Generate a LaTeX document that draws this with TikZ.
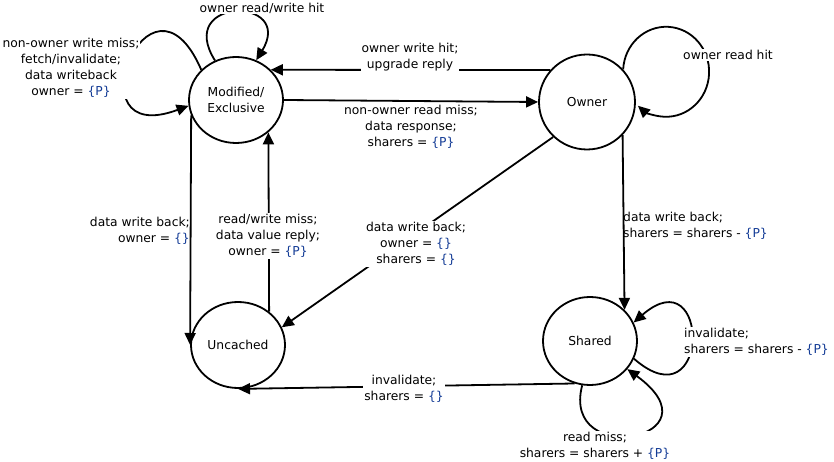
\documentclass[tikz,border=0pt]{standalone}
\usepackage{fontspec}
\setmainfont{DejaVu Sans}
\usetikzlibrary{arrows.meta,shapes.geometric}
\definecolor{setblue}{RGB}{20,60,150}
\newcommand{\setof}[1]{\textcolor{setblue}{\{#1\}}}

\begin{document}
\begin{tikzpicture}[x=1bp,y=-1bp,
  every node/.style={font=\fontsize{12.3bp}{16bp}\selectfont},
  state/.style={ellipse, draw, line width=1.8bp, inner sep=0pt, align=center},
  trans/.style={line width=1.8bp, -{Triangle[length=12bp,width=11bp]}},
  lbl/.style={fill=white, inner sep=1bp, align=center},
]
\useasboundingbox (0,0) rectangle (834,462);

% states
\node[state, minimum width=94bp, minimum height=86bp] (me)  at (236,100) {Modified/\\Exclusive};
\node[state, minimum width=96bp, minimum height=95bp] (own) at (587,102) {Owner};
\node[state, minimum width=94bp, minimum height=86bp] (unc) at (238,345) {Uncached};
\node[state, minimum width=94bp, minimum height=88bp] (sh)  at (590,341) {Shared};

% transitions
\draw[trans] (me.118) .. controls +(-40.5,-64) and +(39,-64) .. (me.63);
\draw[trans] (me.139) .. controls +(-52,-120) and +(-119.4,44.3) .. (me.187);
\draw[trans] (own.139) -- (me.41);
\draw[trans] (me.east) -- (own.west);
\draw[trans] (own.42) arc[start angle=183, end angle=491, x radius=43, y radius=45];
\draw[trans] (own.-43) -- (sh.42);
\draw[trans] (own.226) -- (unc.22);
\draw[trans] (me.199) -- (unc.west);
\draw[trans] (unc.47) -- (me.-45);
\draw[trans] (sh.250) -- (unc.south);
\draw[trans] (sh.-22) .. controls +(77,67) and +(77,-67) .. (sh.23);
\draw[trans] (sh.260) .. controls +(-22,84) and +(96,70) .. (sh.323);

% transition labels
\node[lbl] (tme) at (262,8) {owner read/write hit};
\node[lbl] (tmeleft) at (71,68) {non-owner write miss;\\fetch/invalidate;\\data writeback\\owner = \setof{P}};
\node[lbl] (tup) at (410,57) {owner write hit;\\upgrade reply};
\node[lbl] (tread) at (411,127) {non-owner read miss;\\data response;\\sharers = \setof{P}};
\node[lbl] (town) at (728,55) {owner read hit};
\node[anchor=west, inner sep=0pt, align=left] (towsh) at (623,226) {data write back;\\sharers = sharers - \setof{P}};
\node[lbl] (towunc) at (416,244) {data write back;\\owner = \setof{}\\sharers = \setof{}};
\node[anchor=east, inner sep=0pt, align=right] (tmeunc) at (190,231) {data write back;\\owner = \setof{}};
\node[lbl] (tuncme) at (268,236) {read/write miss;\\data value reply;\\owner = \setof{P}};
\node[lbl] (tshunc) at (404,389) {invalidate;\\sharers = \setof{}};
\node[lbl, anchor=west, align=left] (tshinv) at (683,342) {invalidate;\\sharers = sharers - \setof{P}};
\node[lbl] (tshread) at (595,446) {read miss;\\sharers = sharers + \setof{P}};
\end{tikzpicture}
\end{document}
